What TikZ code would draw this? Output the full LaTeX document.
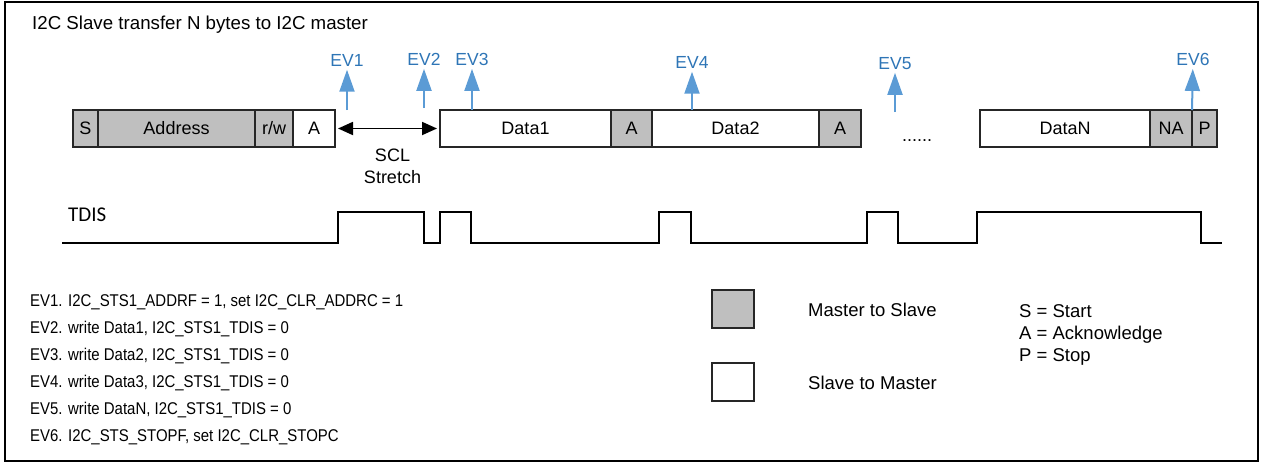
\documentclass[tikz,border=0pt]{standalone}
\usepackage{fontspec}
\setmainfont{Liberation Sans}
\newfontfamily\tdisfont{Carlito}
\newfontfamily\narrowfont{Liberation Sans}[FakeStretch=0.88]
\usepackage{xcolor}
\usetikzlibrary{positioning,arrows.meta}

\definecolor{evblue}{RGB}{91,155,213}
\definecolor{evtext}{RGB}{46,117,182}
\definecolor{mastergray}{RGB}{191,191,191}

\begin{document}
\begin{tikzpicture}[
    x=1pt, y=-1pt,
    node distance=0pt,
    font=\fontsize{18}{21.5}\selectfont,
    field/.style={
        rectangle,
        draw=black!85,
        fill=white,
        line width=1.1pt,
        minimum height=37pt,
        inner sep=0pt,
        outer sep=0pt
    },
    mfield/.style={
        field,
        fill=mastergray
    },
    evline/.style={
        draw=evblue,
        line width=2pt,
        shorten >=3pt,
        -{Triangle[length=22pt,width=15pt]}
    },
    evlabel/.style={
        text=evtext,
        inner sep=0pt,
        font=\fontsize{17.5}{21}\selectfont
    },
    stretch/.style={
        draw,
        line width=1.8pt,
        shorten <=3pt,
        shorten >=3pt,
        {Triangle[length=15pt,width=13pt]}-{Triangle[length=15pt,width=13pt]}
    },
    wave/.style={
        draw,
        line width=1.8pt
    },
    note/.style={
        anchor=base west,
        inner sep=0pt,
        font=\narrowfont\fontsize{17}{20}\selectfont
    },
    keytext/.style={
        anchor=base west,
        inner sep=0pt,
        font=\fontsize{18.5}{22}\selectfont
    }
]

    % --- Frame and title ---
    \useasboundingbox (0,0) rectangle (1265,463);
    \draw[line width=1.5pt] (5,2) rectangle (1258,461);
    \node[anchor=west, inner sep=0pt, font=\fontsize{18.7}{22}\selectfont] (title) at (32,24.5) {I2C Slave transfer N bytes to I2C master};

    % --- Byte sequence ---
    \node[mfield, minimum width=25pt, anchor=west] (s) at (73,128.5) {S};
    \node[mfield, minimum width=157pt, right=of s] (addr) {Address};
    \node[mfield, minimum width=38pt, right=of addr] (rw) {r/w};
    \node[field, minimum width=42pt, right=of rw] (ack0) {A};

    \node[field, minimum width=171pt, right=105pt of ack0] (data1) {Data1};
    \node[mfield, minimum width=41pt, right=of data1] (ack1) {A};
    \node[field, minimum width=167pt, right=of ack1] (data2) {Data2};
    \node[mfield, minimum width=42pt, right=of data2] (ack2) {A};

    \node[anchor=base, inner sep=0pt] (dots) at (917,141) {......};

    \node[field, minimum width=170pt, right=119pt of ack2] (datan) {DataN};
    \node[mfield, minimum width=42pt, right=of datan] (nack) {NA};
    \node[mfield, minimum width=25pt, right=of nack] (stop) {P};

    % SCL stretch between address ack and Data1
    \path[stretch] (ack0) -- node[below=20pt, align=center, inner sep=0pt, xshift=5pt] (scl) {SCL\\Stretch} (data1);

    % --- Events ---
    \node[evlabel] (ev1) at (347,60.5) {EV1};
    \node[evlabel] (ev2) at (424,59.5) {EV2};
    \node[evlabel] (ev3) at (472,59.5) {EV3};
    \node[evlabel] (ev4) at (692,62.5) {EV4};
    \node[evlabel] (ev5) at (895,63.5) {EV5};
    \node[evlabel] (ev6) at (1193,59.5) {EV6};

    \coordinate (ev1foot) at (347,110);
    \coordinate (ev2foot) at (424,108);
    \coordinate (ev3foot) at (472,110);
    \coordinate (ev4foot) at (692,110);
    \coordinate (ev5foot) at (895,112);
    \coordinate (ev6foot) at (1192,110);

    \draw[evline] (ev1foot) -- (ev1);
    \draw[evline] (ev2foot) -- (ev2);
    \draw[evline] (ev3foot) -- (ev3);
    \draw[evline] (ev4foot) -- (ev4);
    \draw[evline] (ev5foot) -- (ev5);
    \draw[evline] (ev6foot) -- (ev6);

    % --- TDIS waveform ---
    \node[anchor=west, inner sep=0pt, font=\tdisfont\fontsize{21}{24}\selectfont] (tdis) at (68,215) {TDIS};
    \draw[wave] (62,243) -- (338,243) |- (424,212) |- (440,243) |- (471,212)
        |- (659,243) |- (691,212) |- (867,243) |- (898,212)
        |- (977,243) |- (1201,212) |- (1222,243);

    % --- Event notes ---
    \node[note] (note1) at (30,306.5) {EV1. I2C\_STS1\_ADDRF = 1, set I2C\_CLR\_ADDRC = 1};
    \node[note] (note2) at (30,333.5) {EV2. write Data1, I2C\_STS1\_TDIS = 0};
    \node[note] (note3) at (30,360.5) {EV3. write Data2, I2C\_STS1\_TDIS = 0};
    \node[note] (note4) at (30,387.5) {EV4. write Data3, I2C\_STS1\_TDIS = 0};
    \node[note] (note5) at (30,414.5) {EV5. write DataN, I2C\_STS1\_TDIS = 0};
    \node[note] (note6) at (30,441.5) {EV6. I2C\_STS\_STOPF, set I2C\_CLR\_STOPC};

    % --- Legend ---
    \node[mfield, minimum width=42pt, minimum height=38pt] (keym) at (733,309) {};
    \node[field, minimum width=42pt, minimum height=38pt, below=35pt of keym] (keys) {};
    \node[keytext] (keymtxt) at (808,316) {Master to Slave};
    \node[keytext] (keystxt) at (808,389) {Slave to Master};
    \node[keytext] (keyS) at (1019,317) {S = Start};
    \node[keytext] (keyA) at (1019,339) {A = Acknowledge};
    \node[keytext] (keyP) at (1019,361) {P = Stop};

\end{tikzpicture}
\end{document}
